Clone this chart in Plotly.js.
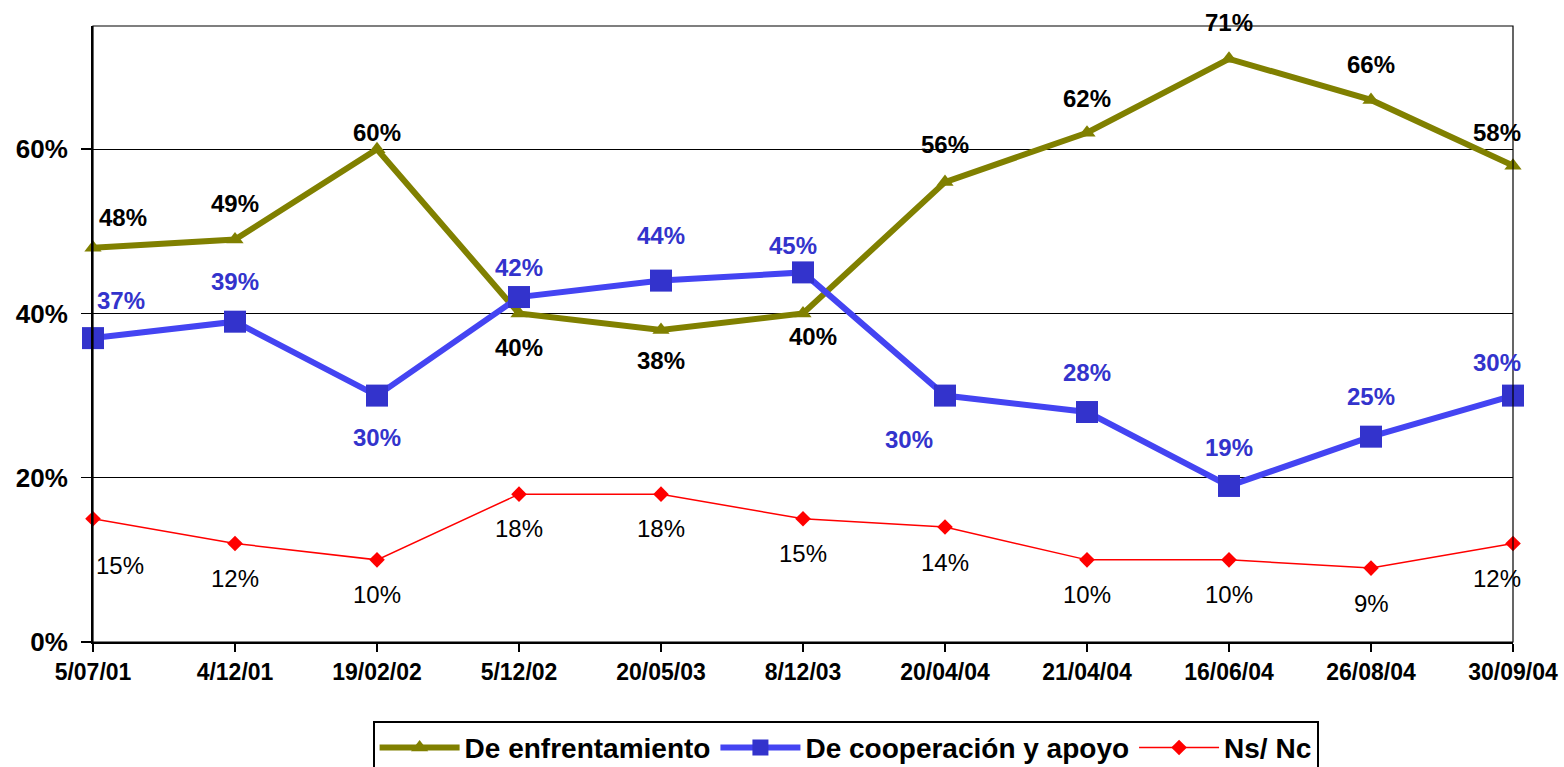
<!DOCTYPE html>
<html>
<head>
<meta charset="utf-8">
<script src="https://cdn.plot.ly/plotly-3.0.1.min.js"></script>
<style>html,body{margin:0;padding:0;background:#fff;overflow:hidden;}#chart{width:1564px;height:790px;}</style>
</head>
<body>
<div id="chart"></div>
<script>
// Data
const fechas = ["5/07/01","4/12/01","19/02/02","5/12/02","20/05/03","8/12/03","20/04/04","21/04/04","16/06/04","26/08/04","30/09/04"];
const enfrentamiento = [48,49,60,40,38,40,56,62,71,66,58];
const cooperacion = [37,39,30,42,44,45,30,28,19,25,30];
const nsnc = [15,12,10,18,18,15,14,10,10,9,12];
const yTicks = [0,20,40,60];
const yTickText = ["0%","20%","40%","60%"];

// Label offsets (pixels)
const enfShiftX = [30,0,0,0,0,10,0,0,0,0,-16];
const enfShiftY = [30,36,17,-34,-31,-23,38,34,36,35,33];
const coopShiftX = [28,0,0,0,0,-10,-36,0,0,0,-16];
const coopShiftY = [38,40,-42,30,45,27,-44,40,38,40,33];
const nsShiftX = [27,0,0,0,0,0,0,0,0,0,-16];
const nsShiftY = [-47,-35,-35,-34,-34,-35,-35,-35,-35,-35,-35];

const FONT = "Liberation Sans, Arial, sans-serif";

const traces = [
  {x: fechas, y: enfrentamiento, name: "De enfrentamiento", type: "scatter", mode: "lines+markers",
   line: {color: "#808000", width: 6}, marker: {symbol: "triangle-up", size: 15, color: "#808000"}, cliponaxis: false},
  {x: fechas, y: cooperacion, name: "De cooperación y apoyo", type: "scatter", mode: "lines+markers",
   line: {color: "#4444f2", width: 6}, marker: {symbol: "square", size: 22, color: "#3333cc"}, cliponaxis: false},
  {x: fechas, y: nsnc, name: "Ns/ Nc", type: "scatter", mode: "lines+markers",
   line: {color: "#ff0000", width: 1.5}, marker: {symbol: "diamond", size: 12, color: "#ff0000"}, cliponaxis: false}
];

const annotations = [];
function addLabels(vals, sx, sy, color, weight) {
  vals.forEach((v, i) => {
    annotations.push({x: fechas[i], y: v, xref: "x", yref: "y", text: v + "%", showarrow: false,
      xshift: sx[i], yshift: sy[i], font: {family: FONT, size: 24, color: color, weight: weight}});
  });
}
addLabels(enfrentamiento, enfShiftX, enfShiftY, "#000000", "bold");
addLabels(cooperacion, coopShiftX, coopShiftY, "#3333cc", "bold");
addLabels(nsnc, nsShiftX, nsShiftY, "#000000", "normal");

const layout = {
  width: 1564, height: 790,
  margin: {l: 93, r: 51, t: 26, b: 148},
  paper_bgcolor: "#ffffff", plot_bgcolor: "#ffffff",
  showlegend: true,
  font: {family: FONT, color: "#000"},
  xaxis: {type: "category", range: [0, 10], showgrid: false, zeroline: false,
    showline: true, linecolor: "#000", linewidth: 2,
    ticks: "outside", ticklen: 8, tickwidth: 1.5, tickcolor: "#000",
    tickfont: {family: FONT, size: 23, weight: "bold", color: "#000"}},
  yaxis: {range: [0, 75], tickvals: yTicks, ticktext: yTickText, showgrid: true, gridcolor: "#000", gridwidth: 1.2,
    zeroline: false, showline: true, linecolor: "#000", linewidth: 2,
    ticks: "outside", ticklen: 10, tickwidth: 1.5, tickcolor: "#000", ticklabelstandoff: 8,
    tickfont: {family: FONT, size: 26, weight: "bold", color: "#000"}},
  shapes: [{type: "rect", xref: "paper", yref: "paper", x0: 0, x1: 1, y0: 0, y1: 1, line: {color: "#000", width: 1.2}}],
  annotations: annotations,
  legend: {orientation: "h", x: 0.53, xanchor: "center", y: -0.128, yanchor: "top",
    bordercolor: "#000", borderwidth: 2, bgcolor: "#fff", itemwidth: 80,
    font: {family: FONT, size: 28, weight: "bold", color: "#000"}}
};

Plotly.newPlot("chart", traces, layout, {displayModeBar: false, staticPlot: true});
</script>
</body>
</html>
